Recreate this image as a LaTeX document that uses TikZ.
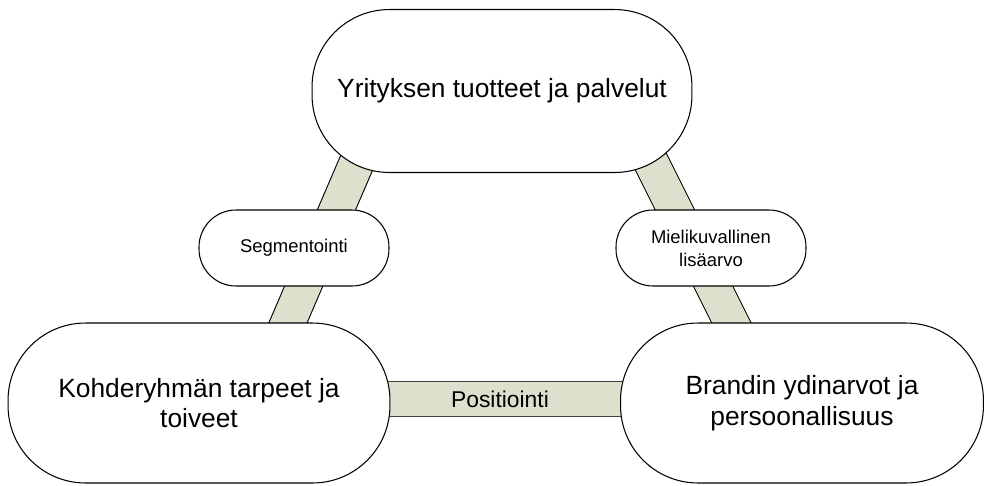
\documentclass[tikz,border=0pt]{standalone}
\usepackage{fontspec}
\setmainfont{Liberation Sans}
\usetikzlibrary{positioning,backgrounds}
\definecolor{bandgreen}{RGB}{221,224,204}
\tikzset{
bignode/.style={draw,fill=white,line width=0.6pt,rounded corners=1.55cm,minimum height=3.2cm,align=center,font=\fontsize{15}{17.5}\selectfont},
smallnode/.style={draw,fill=white,line width=0.6pt,rounded corners=0.74cm,minimum width=3.8cm,minimum height=1.52cm,align=center,font=\fontsize{10.5}{13}\selectfont},
band/.style={line width=0.6pt,double=bandgreen,double distance=0.68cm}
}

\begin{document}
\begin{tikzpicture}[x=0.02cm,y=-0.02cm]
\useasboundingbox (0,0) rectangle (985,485);

\node (n0) at (502,91) [bignode,minimum width=7.6cm,minimum height=3.26cm] {Yrityksen tuotteet ja palvelut};
\node (n1) at (199,403) [bignode,minimum width=7.64cm] {Kohderyhmän tarpeet ja\\toiveet};
\node (n2) at (802,403) [bignode,minimum width=7.26cm] {Brandin ydinarvot ja\\persoonallisuus};

\node (s0) at (294,248) [smallnode] {Segmentointi};
\node (s1) at (711,248) [smallnode] {Mielikuvallinen\\lisäarvo};

% band ends, hidden inside the big nodes
\coordinate (c0) at (375,120);
\coordinate (c1) at (272,360);
\coordinate (c2) at (630,120);
\coordinate (c3) at (750,360);
\coordinate (c4) at (300,399);
\coordinate (c5) at (700,399);

\begin{scope}[on background layer]
\draw[band] (c0) -- (c1);
\draw[band] (c2) -- (c3);
\draw[band,draw=black!75] (c4) -- node (p0) [font=\fontsize{13}{15}\selectfont] {Positiointi} (c5);
\end{scope}
\end{tikzpicture}
\end{document}
